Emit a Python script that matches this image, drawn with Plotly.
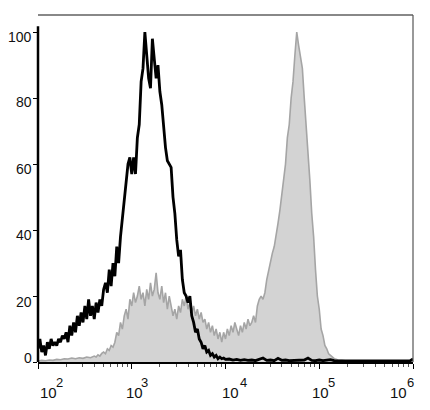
import plotly.graph_objects as go

# ---- data (log10 of fluorescence intensity, % of max) ----
BLACK_LOG = [2.00, 2.02, 2.04, 2.06, 2.08, 2.10, 2.12, 2.14, 2.16, 2.18, 2.20, 2.22, 2.24, 2.26, 2.28,
             2.30, 2.32, 2.34, 2.36, 2.38, 2.40, 2.42, 2.44, 2.46, 2.48, 2.50, 2.52, 2.54, 2.56, 2.58,
             2.60, 2.62, 2.64, 2.66, 2.68, 2.70, 2.72, 2.74, 2.76, 2.78, 2.80, 2.82, 2.84, 2.86, 2.88,
             2.90, 2.92, 2.94, 2.96, 2.98, 3.00, 3.02, 3.04, 3.06, 3.08, 3.10, 3.12, 3.14, 3.16, 3.18,
             3.20, 3.22, 3.24, 3.26, 3.28, 3.30, 3.32, 3.34, 3.36, 3.38, 3.40, 3.42, 3.44, 3.46, 3.48,
             3.50, 3.52, 3.54, 3.56, 3.58, 3.60, 3.62, 3.64, 3.66, 3.68, 3.70, 3.72, 3.74, 3.76, 3.78,
             3.80, 3.82, 3.84, 3.86, 3.88, 3.90, 3.92, 3.94, 3.96, 3.98, 4.00, 4.04, 4.08, 4.12, 4.16,
             4.20, 4.24, 4.28, 4.32, 4.36, 4.40, 4.44, 4.48, 4.52, 4.56, 4.60, 4.64, 4.68, 4.72, 4.76,
             4.80, 4.84, 4.88, 4.92, 4.96, 5.00, 5.04, 5.08, 5.12, 5.16, 5.20, 5.30, 5.40, 5.50, 5.60,
             5.70, 5.80, 5.90, 5.97, 6.00]
BLACK_VAL = [4, 7, 3, 5, 2, 6, 4, 7, 5, 6, 5, 7, 6, 8, 7,
             9, 6, 11, 8, 12, 9, 14, 11, 15, 12, 17, 13, 19, 14, 17,
             13, 18, 15, 19, 17, 22, 24, 21, 28, 23, 30, 26, 35, 30, 38,
             44, 50, 54, 60, 62, 57, 62, 57, 68, 72, 85, 89, 100, 94, 86,
             83, 98, 92, 86, 90, 82, 78, 70, 65, 61, 60, 59, 50, 45, 37,
             32, 34, 25, 21, 20, 18, 20, 14, 12, 9, 10, 7, 6, 4, 5,
             3, 3.5, 2, 2.5, 1.5, 2, 1, 1.5, 1, 1.2, 0.8, 0.9, 0.6, 0.8, 0.5,
             0.7, 0.5, 0.6, 0.4, 0.9, 1.2, 0.5, 0.6, 0.4, 1.1, 0.5, 0.6, 0.4, 0.5, 0.4,
             0.5, 0.6, 1.2, 0.5, 0.4, 0.6, 0.4, 0.5, 0.7, 0.4, 0.3, 0.3, 0.3, 0.3, 0.3,
             0.3, 0.3, 0.3, 0.4, 0.9]

GRAY_LOG = [2.00, 2.04, 2.08, 2.12, 2.16, 2.20, 2.24, 2.28, 2.32, 2.36, 2.40, 2.44, 2.48, 2.52, 2.56,
            2.60, 2.62, 2.64, 2.66, 2.68, 2.70, 2.72, 2.74, 2.76, 2.78, 2.80, 2.82, 2.84, 2.86, 2.88,
            2.90, 2.92, 2.94, 2.96, 2.98, 3.00, 3.02, 3.04, 3.06, 3.08, 3.10, 3.12, 3.14, 3.16, 3.18,
            3.20, 3.22, 3.24, 3.26, 3.28, 3.30, 3.32, 3.34, 3.36, 3.38, 3.40, 3.42, 3.44, 3.46, 3.48,
            3.50, 3.52, 3.54, 3.56, 3.58, 3.60, 3.62, 3.64, 3.66, 3.68, 3.70, 3.72, 3.74, 3.76, 3.78,
            3.80, 3.82, 3.84, 3.86, 3.88, 3.90, 3.92, 3.94, 3.96, 3.98, 4.00, 4.02, 4.04, 4.06, 4.08,
            4.10, 4.12, 4.14, 4.16, 4.18, 4.20, 4.22, 4.24, 4.26, 4.28, 4.30, 4.32, 4.34, 4.36, 4.38,
            4.40, 4.42, 4.44, 4.46, 4.48, 4.50, 4.52, 4.54, 4.56, 4.58, 4.60, 4.62, 4.64, 4.66, 4.68,
            4.70, 4.72, 4.74, 4.76, 4.78, 4.80, 4.82, 4.84, 4.86, 4.88, 4.90, 4.92, 4.94, 4.96, 4.98,
            5.00, 5.02, 5.04, 5.06, 5.08, 5.10, 5.12, 5.14, 5.16, 5.18, 5.20, 5.24, 5.30, 5.40, 5.60,
            6.00]
GRAY_VAL = [0.3, 0.5, 0.4, 0.6, 0.5, 0.8, 0.7, 1.0, 0.9, 1.2, 1.0, 1.3, 1.1, 1.5, 1.3,
            1.8, 1.5, 2.2, 1.8, 2.6, 3.0, 2.5, 4.0, 3.5, 5, 4.5, 6, 9, 8, 12,
            10, 14, 16, 13, 19, 17, 21, 18, 20, 23, 19, 21, 17, 22, 19,
            24, 20, 22, 27, 21, 19, 23, 18, 21, 16, 20, 17, 14, 16, 13,
            17, 15, 19, 17, 20, 16, 18, 15, 17, 14, 16, 13, 15, 12, 13,
            10, 12, 9, 11, 8, 10, 7, 9, 6, 9, 7, 10, 8, 11, 9,
            12, 10, 8, 11, 9, 12, 10, 13, 11, 12, 14, 12, 17, 19, 20,
            19, 21, 25, 28, 30, 33, 35, 38, 42, 46, 51, 55, 60, 68, 72,
            80, 85, 93, 100, 96, 92, 89, 80, 72, 66, 55, 45, 38, 28, 20,
            16, 10, 8, 5, 4, 2.5, 2, 1.5, 1, 0.8, 0.6, 0.5, 0.3, 0.2, 0.1,
            0]

Y_TICKS = [0, 20, 40, 60, 80, 100]
Y_TICK_LABELS = ["0", "20", "40", "60", "80", "100"]
X_TICK_EXP = [2, 3, 4, 5, 6]
X_TICK_BASE = "10"

# label nudges (pixels) to mimic the original's placement
Y_LABEL_SHIFT = [4, -6, -5, -4.5, -4, -5]
X_BASE_SHIFT = [10, 2.5, 5, 1.5, -14.5]
X_EXP_SHIFT = [21.5, 13, 18, 12.5, -2.5]

fig = go.Figure()
fig.add_trace(go.Scatter(
    x=[10 ** v for v in GRAY_LOG], y=GRAY_VAL, mode="lines",
    fill="tozeroy", fillcolor="#d3d3d3",
    line=dict(color="#a5a5a5", width=1.6), hoverinfo="skip", showlegend=False))
fig.add_trace(go.Scatter(
    x=[10 ** v for v in BLACK_LOG], y=BLACK_VAL, mode="lines",
    line=dict(color="#000000", width=2.8), hoverinfo="skip", showlegend=False))

FONT = "Liberation Sans, Arial, sans-serif"
annotations = []
for v, lab, dy in zip(Y_TICKS, Y_TICK_LABELS, Y_LABEL_SHIFT):
    annotations.append(dict(x=0, xref="paper", y=v, yref="y", text=lab, showarrow=False,
                            xanchor="right", yanchor="middle", xshift=-4, yshift=dy,
                            font=dict(family=FONT, size=14, color="#111")))
for e, bx, ex in zip(X_TICK_EXP, X_BASE_SHIFT, X_EXP_SHIFT):
    annotations.append(dict(x=e, xref="x", y=0, yref="paper", text=X_TICK_BASE, showarrow=False,
                            xanchor="center", yanchor="middle", xshift=bx, yshift=-30,
                            font=dict(family=FONT, size=15, color="#111")))
    annotations.append(dict(x=e, xref="x", y=0, yref="paper", text=str(e), showarrow=False,
                            xanchor="center", yanchor="middle", xshift=ex, yshift=-20,
                            font=dict(family=FONT, size=13, color="#111")))

fig.update_layout(
    width=430, height=410,
    margin=dict(l=38, r=17, t=15, b=48),
    paper_bgcolor="white", plot_bgcolor="white",
    font=dict(family=FONT, size=13, color="#111111"),
    xaxis=dict(
        type="log", range=[2, 6], automargin=False,
        tickvals=[10 ** e for e in X_TICK_EXP], showticklabels=False,
        ticks="outside", ticklen=5, tickwidth=1, tickcolor="#000",
        minor=dict(ticks="outside", ticklen=3, tickcolor="#555", dtick="D1"),
        showline=True, linecolor="#000", linewidth=2,
        showgrid=False, zeroline=False,
    ),
    yaxis=dict(
        range=[0, 105.2], automargin=False,
        tickvals=Y_TICKS, showticklabels=False,
        ticks="outside", ticklen=4, tickwidth=1, tickcolor="#000",
        showline=False, showgrid=False, zeroline=False,
    ),
    annotations=annotations,
    shapes=[
        dict(type="line", xref="paper", yref="paper", x0=0, x1=1, y0=1, y1=1,
             line=dict(color="#888888", width=2)),
        dict(type="line", xref="paper", yref="paper", x0=1, x1=1, y0=0, y1=1,
             line=dict(color="#555555", width=1.2)),
        dict(type="line", xref="paper", yref="y", x0=0, x1=0, y0=0, y1=101.8,
             line=dict(color="#000000", width=2.5)),
    ],
)

fig.write_html("out.html",
               config={"displayModeBar": False},
               post_script="document.body.style.margin='0';document.body.style.padding='0';")
